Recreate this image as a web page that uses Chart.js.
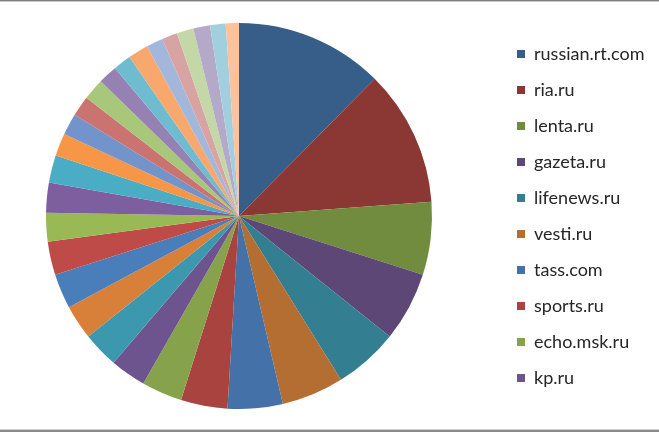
<!DOCTYPE html>
<html>
<head>
<meta charset="utf-8">
<script src="https://cdn.jsdelivr.net/npm/chart.js"></script>
<style>
  body { margin: 0; background: #fff; }
  .wrap { position: relative; width: 659px; height: 432px; }
  .edge-top { position: absolute; left: 0; top: 0; width: 659px; height: 1px; background: #7f7f7f; border-bottom: 1px solid #c8c8c8; }
  .edge-bottom { position: absolute; left: 0; bottom: 0; width: 659px; height: 2px; background: #8a8a8a; border-top: 1px solid #d0d0d0; }
</style>
</head>
<body>
<div class="wrap">
  <canvas id="sites" width="659" height="432"></canvas>
  <div class="edge-top"></div>
  <div class="edge-bottom"></div>
</div>
<script>
// сайты (в легенде видны только первые 10)
const sites = ['russian.rt.com', 'ria.ru', 'lenta.ru', 'gazeta.ru', 'lifenews.ru',
    'vesti.ru', 'tass.com', 'sports.ru', 'echo.msk.ru', 'kp.ru']

// доли, % (30 секторов)
const shares = [12.4, 11.4, 6.1, 5.8, 5.4, 5.2, 4.6, 3.9, 3.4, 3.0,
    3.0, 2.9, 2.9, 2.8, 2.4, 2.5, 2.3, 1.9, 1.8, 1.7,
    1.8, 1.6, 1.5, 1.7, 1.4, 1.3, 1.4, 1.4, 1.3, 1.1]

const colors = [
    '#375d89', '#8b3834', '#718c3e', '#5c4777', '#337f91', '#b56e31',
    '#4471a8', '#a9433f', '#86a34b', '#6e548e', '#3c98af', '#d8803a',
    '#4a7ebb', '#be4b48', '#98b954', '#7d5fa0', '#4bacc6', '#f79646',
    '#7394cb', '#cb7371', '#a9c77b', '#9581b3', '#6fbcd1', '#f9a86d',
    '#a3b7db', '#d8a4a3', '#c3d8a6', '#b5a9ca', '#a2cfde', '#fbc29e'
]

const labels = shares.map((v, i) => sites[i] || ('site ' + (i + 1)))

// легенду сдвигаем вправо, как в оригинале
const legendShift = {
    id: 'legendShift',
    afterLayout(chart) {
        const lg = chart.legend
        lg.left = 517 - 18
        lg.right = 659
        lg.width = lg.right - lg.left
    }
}

new Chart(document.getElementById('sites'), {
    type: 'pie',
    data: {
        labels: labels,
        datasets: [{
            data: shares,
            backgroundColor: colors,
            borderWidth: 0
        }]
    },
    options: {
        responsive: false,
        animation: false,
        layout: { padding: { left: 46, right: 87, top: 23, bottom: 23 } },
        plugins: {
            tooltip: { enabled: false },
            legend: {
                position: 'right',
                maxWidth: 140,
                labels: {
                    boxWidth: 8,
                    boxHeight: 8,
                    padding: 18,
                    color: '#262626',
                    font: { family: 'Lato', size: 18 },
                    filter: item => item.index < sites.length
                }
            }
        }
    },
    plugins: [legendShift]
})
</script>
</body>
</html>
